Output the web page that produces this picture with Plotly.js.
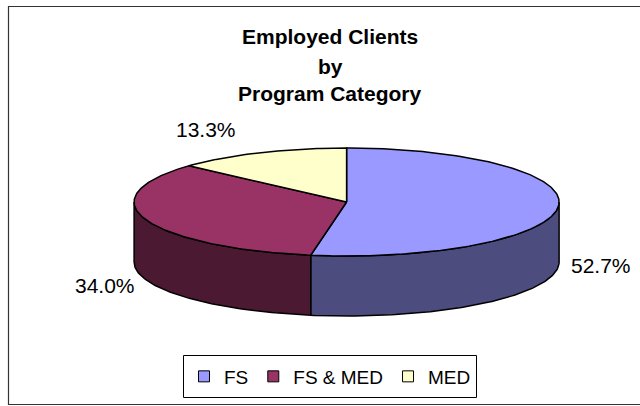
<!DOCTYPE html>
<html><head><meta charset="utf-8">
<script src="https://cdn.plot.ly/plotly-3.0.1.min.js"></script>
<style>html,body{margin:0;padding:0;background:#fff}</style>
</head><body><div id="chart" style="width:640px;height:406px"></div>
<script>
// ---- data ----
const categories = ['FS', 'FS & MED', 'MED'];
const values = [52.7, 34.0, 13.3];
const topColors = ['#9999FF', '#993366', '#FFFFCC'];
const sideColors = ['#4C4C7F', '#4C1933', '#7F7F66'];
const titleLines = ['Employed Clients', 'by', 'Program Category'];

// ---- layout constants (pixel space of the plot) ----
const CX = 346.6, CY = 202, RX = 212.5, RY = 54, DEPTH = 60;
const labelPos = [[601, 265], [105, 285], [206, 129]];
const titleY = [36, 66, 93];
const FONT = 'Liberation Sans, Arial, sans-serif';

function pt(deg, dy) {
  const r = deg * Math.PI / 180;
  return [CX + RX * Math.sin(r), CY - RY * Math.cos(r) + dy];
}
function arc(a, b, dy) {
  const pts = [];
  const n = Math.max(2, Math.ceil(Math.abs(b - a)));
  for (let i = 0; i <= n; i++) pts.push(pt(a + (b - a) * i / n, dy));
  return pts;
}

const total = values.reduce((s, v) => s + v, 0);
const starts = [], ends = [];
let acc = 0;
values.forEach(v => { starts.push(acc / total * 360); acc += v; ends.push(acc / total * 360); });

const traces = [];
// sides (front half only: 90..270 deg)
values.forEach((v, i) => {
  const a = Math.max(starts[i], 90), b = Math.min(ends[i], 270);
  if (b <= a) return;
  const pts = arc(a, b, 0).concat(arc(b, a, DEPTH));
  pts.push(pts[0]);
  traces.push({
    type: 'scatter', mode: 'lines', fill: 'toself',
    x: pts.map(p => p[0]), y: pts.map(p => p[1]),
    fillcolor: sideColors[i], line: {color: '#000', width: 1.5},
    hoverinfo: 'skip', showlegend: false
  });
});
// top faces
values.forEach((v, i) => {
  const pts = [[CX, CY]].concat(arc(starts[i], ends[i], 0));
  pts.push([CX, CY]);
  traces.push({
    type: 'scatter', mode: 'lines', fill: 'toself',
    x: pts.map(p => p[0]), y: pts.map(p => p[1]),
    fillcolor: topColors[i], line: {color: '#000', width: 1.5},
    hoverinfo: 'skip', showlegend: false
  });
});
// legend entries
categories.forEach((c, i) => {
  traces.push({
    type: 'scatter', mode: 'markers', x: [null], y: [null], name: c,
    marker: {symbol: 'square', size: 11, color: topColors[i], line: {color: '#000', width: 1}},
    showlegend: true, hoverinfo: 'skip'
  });
});

const annotations = values.map((v, i) => ({
  x: labelPos[i][0], y: labelPos[i][1], xref: 'x', yref: 'y',
  text: v.toFixed(1) + '%', showarrow: false,
  font: {family: FONT, size: 21, color: '#000'}
})).concat(titleLines.map((t, i) => ({
  x: 330, y: titleY[i], xref: 'x', yref: 'y', xanchor: 'center', yanchor: 'middle',
  text: '<b>' + t + '</b>', showarrow: false,
  font: {family: FONT, size: 21, color: '#000'}
})));

const layout = {
  width: 640, height: 406,
  margin: {l: 0, r: 0, t: 0, b: 0},
  paper_bgcolor: '#fff', plot_bgcolor: '#fff',
  xaxis: {range: [0, 640], visible: false, fixedrange: true},
  yaxis: {range: [406, 0], visible: false, fixedrange: true},
  showlegend: true,
  legend: {
    orientation: 'h', x: 330 / 640, xanchor: 'center',
    y: 1 - 376.5 / 406, yanchor: 'middle',
    borderwidth: 0, bgcolor: 'rgba(0,0,0,0)',
    font: {family: FONT, size: 19, color: '#000'}
  },
  annotations: annotations,
  shapes: [{
    type: 'rect', xref: 'x', yref: 'y', x0: 8.5, x1: 650, y0: 6.5, y1: 404.5,
    line: {color: '#333', width: 1.2}, fillcolor: 'rgba(0,0,0,0)', layer: 'below'
  }, {
    type: 'rect', xref: 'x', yref: 'y', x0: 183.5, x1: 476.5, y0: 355.5, y1: 397.5,
    line: {color: '#000', width: 1}, fillcolor: '#fff', layer: 'below'
  }]
};

Plotly.newPlot('chart', traces, layout, {displayModeBar: false, staticPlot: true});
</script>
</body></html>
